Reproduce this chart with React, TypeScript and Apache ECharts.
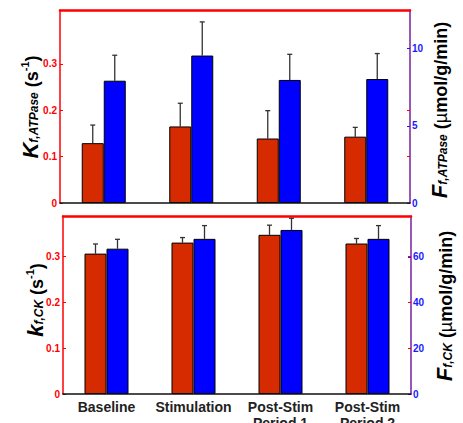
import React, { useEffect, useRef } from "react";
import * as echarts from "echarts";

const categories = ["Baseline", "Stimulation", "Post-Stim\nPeriod 1", "Post-Stim\nPeriod 2"];
// Top panel
const kATPase = [0.129, 0.165, 0.139, 0.143];
const kATPaseSE = [0.039, 0.05, 0.06, 0.02];
const fATPase = [7.92, 9.55, 7.97, 8.03];
const fATPaseSE = [1.65, 2.18, 1.66, 1.65];
// Bottom panel
const kCK = [0.306, 0.33, 0.347, 0.328];
const kCKSE = [0.021, 0.011, 0.021, 0.011];
const fCK = [63.6, 67.9, 71.8, 67.9];
const fCKSE = [4.1, 5.8, 5.1, 5.8];

const topLeftTicks = [0, 0.1, 0.2, 0.3];
const topRightTicks = [0, 5, 10];
const botLeftTicks = [0, 0.1, 0.2, 0.3];
const botRightTicks = [0, 20, 40, 60];

const RED_BAR = "#d62a00";
const BLUE_BAR = "#0000ff";
const RED = "#ff0000";
const BLUE = "#1a1aff";
const PURPLE = "#7a1fa0";
const FONT = "Liberation Sans";
const BAR_W = 22;

const errSeries = (xAxisIndex: number, yAxisIndex: number, vals: number[], se: number[], side: number) => ({
  type: "custom",
  xAxisIndex,
  yAxisIndex,
  z: 1,
  data: vals.map((v, i) => [i, v, v + se[i]]),
  renderItem: (params: any, api: any) => {
    const b = api.coord([api.value(0), api.value(1)]);
    const t = api.coord([api.value(0), api.value(2)]);
    const x = b[0] + (side * BAR_W) / 2;
    return {
      type: "group",
      children: [
        { type: "line", shape: { x1: x, y1: b[1], x2: x, y2: t[1] }, style: { stroke: "#333", lineWidth: 1.3 } },
        { type: "line", shape: { x1: x - 2.5, y1: t[1], x2: x + 2.5, y2: t[1] }, style: { stroke: "#333", lineWidth: 1.3 } },
      ],
    };
  },
});

const leftAxis = (gridIndex: number, max: number, ticks: number[]) => ({
  type: "value",
  gridIndex,
  position: "left",
  min: 0,
  max,
  splitLine: { show: false },
  axisLine: { show: true, onZero: false, lineStyle: { color: RED, width: 1.5 } },
  axisTick: { show: true, inside: true, length: 3, customValues: ticks, lineStyle: { color: RED } },
  axisLabel: { customValues: ticks, color: RED, fontWeight: "bold", fontSize: 10, fontFamily: FONT, margin: 3 },
});

const rightAxis = (gridIndex: number, max: number, ticks: number[]) => ({
  type: "value",
  gridIndex,
  position: "right",
  min: 0,
  max,
  splitLine: { show: false },
  axisLine: { show: true, onZero: false, lineStyle: { color: PURPLE, width: 1.5 } },
  axisTick: { show: true, inside: true, length: 3, customValues: ticks, lineStyle: { color: BLUE } },
  axisLabel: { customValues: ticks, color: BLUE, fontWeight: "bold", fontSize: 10, fontFamily: FONT, margin: 2 },
});

const mirrorAxis = (gridIndex: number, max: number, ticks: number[]) => ({
  type: "value",
  gridIndex,
  position: "right",
  min: 0,
  max,
  splitLine: { show: false },
  axisLine: { show: false, onZero: false },
  axisTick: { show: true, inside: true, length: 3, customValues: ticks, lineStyle: { color: RED } },
  axisLabel: { show: false },
});

const bottomX = (gridIndex: number, showLabels: boolean) => ({
  type: "category",
  gridIndex,
  position: "bottom",
  data: categories,
  axisLine: { show: true, onZero: false, lineStyle: { color: "#111", width: 1.5 } },
  axisTick: { show: false },
  axisLabel: {
    show: showLabels,
    color: "#222",
    fontWeight: "bold",
    fontSize: 14,
    fontFamily: FONT,
    lineHeight: 16,
    margin: 5,
    interval: 0,
  },
  z: 3,
});

const topX = (gridIndex: number) => ({
  type: "category",
  gridIndex,
  position: "top",
  data: categories,
  axisLine: { show: true, onZero: false, lineStyle: { color: RED, width: 2.5 } },
  axisTick: { show: false },
  axisLabel: { show: false },
});

const rich = {
  big: { fontSize: 22, fontWeight: "bold", fontStyle: "italic", fontFamily: FONT, lineHeight: 26, verticalAlign: "bottom", color: "#000" },
  sub: { fontSize: 12, fontWeight: "bold", fontStyle: "italic", fontFamily: FONT, lineHeight: 12, verticalAlign: "bottom", padding: [0, 0, 1, 0], color: "#000" },
  par: { fontSize: 18, fontWeight: "bold", fontFamily: FONT, lineHeight: 26, verticalAlign: "bottom", color: "#000" },
  mu: { fontSize: 18, fontWeight: "normal", fontFamily: FONT, lineHeight: 26, verticalAlign: "bottom", color: "#000" },
  sup: { fontSize: 11, fontWeight: "bold", fontFamily: FONT, lineHeight: 11, verticalAlign: "top", padding: [4, 0, 0, 0], color: "#000" },
};

const titleText = (x: number, y: number, text: string) => ({
  type: "text",
  x,
  y,
  rotation: Math.PI / 2,
  style: { text, rich, align: "center", verticalAlign: "middle", fill: "#000" },
});

export default function App() {
  const ref = useRef<HTMLDivElement>(null);
  useEffect(() => {
    if (!ref.current) return;
    const chart = echarts.init(ref.current, undefined, { renderer: "svg" });
    chart.setOption({
      animation: false,
      backgroundColor: "#fff",
      grid: [
        { left: 60, right: 53, top: 10, height: 193, outerBoundsMode: "none", containLabel: false },
        { left: 63, right: 52, top: 216, height: 178, outerBoundsMode: "none", containLabel: false },
      ],
      xAxis: [bottomX(0, false), topX(0), bottomX(1, true), topX(1)],
      yAxis: [
        leftAxis(0, 0.416, topLeftTicks),
        rightAxis(0, 12.5, topRightTicks),
        mirrorAxis(0, 0.416, [0.1, 0.2]),
        leftAxis(1, 0.388, botLeftTicks),
        rightAxis(1, 77.9, botRightTicks),
        mirrorAxis(1, 0.388, [0.1, 0.2, 0.3]),
      ],
      series: [
        { type: "bar", xAxisIndex: 0, yAxisIndex: 0, data: kATPase, barWidth: BAR_W, barGap: "0%", itemStyle: { color: RED_BAR, borderColor: "#000", borderWidth: 1 } },
        { type: "bar", xAxisIndex: 0, yAxisIndex: 1, data: fATPase, barWidth: BAR_W, barGap: "0%", itemStyle: { color: BLUE_BAR, borderColor: "#000", borderWidth: 1 } },
        errSeries(0, 0, kATPase, kATPaseSE, -1),
        errSeries(0, 1, fATPase, fATPaseSE, 1),
        { type: "bar", xAxisIndex: 2, yAxisIndex: 3, data: kCK, barWidth: BAR_W, barGap: "0%", itemStyle: { color: RED_BAR, borderColor: "#000", borderWidth: 1 } },
        { type: "bar", xAxisIndex: 2, yAxisIndex: 4, data: fCK, barWidth: BAR_W, barGap: "0%", itemStyle: { color: BLUE_BAR, borderColor: "#000", borderWidth: 1 } },
        errSeries(2, 3, kCK, kCKSE, -1),
        errSeries(2, 4, fCK, fCKSE, 1),
      ],
      graphic: [
        titleText(28, 107, "{big|K}{sub|f,ATPase}{par| (s}{sup|-1}{par|)}"),
        titleText(437, 110, "{big|F}{sub|f,ATPase}{par| (}{mu|µ}{par|mol/g/min)}"),
        titleText(33, 300, "{big|k}{sub|f,CK}{par| (s}{sup|-1}{par|)}"),
        titleText(442, 306, "{big|F}{sub|f,CK}{par| (}{mu|µ}{par|mol/g/min)}"),
      ],
    });
    return () => chart.dispose();
  }, []);
  return <div ref={ref} style={{ position: "fixed", left: 0, top: 0, width: 463, height: 423 }} />;
}
